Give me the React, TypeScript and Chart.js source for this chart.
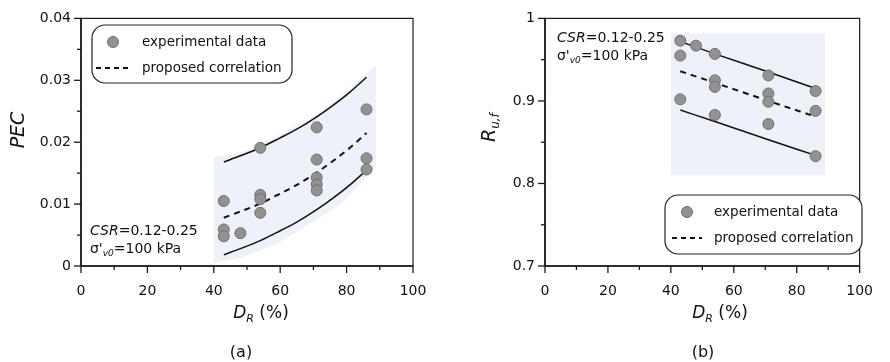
import React, { useEffect, useRef } from 'react';
import { Chart, registerables } from 'chart.js';

Chart.register(...registerables);

const FAM = '"DejaVu Sans", "Liberation Sans", sans-serif';

// ---------- Panel (a): PEC vs D_R ----------
const pecDR = [43, 43, 43, 48, 54, 54, 54, 54, 71, 71, 71, 71, 71, 86, 86, 86];
const pecValues = [0.0105, 0.0059, 0.0048, 0.0053, 0.0191, 0.0115, 0.0108, 0.0086, 0.0224, 0.0172, 0.0143, 0.0132, 0.0122, 0.0253, 0.0174, 0.0156];
const pecCurveDR = [43, 48, 54, 60, 65, 71, 76, 81, 86];
const pecMean = [0.0078, 0.0088, 0.0101, 0.0117, 0.0131, 0.0151, 0.0170, 0.0191, 0.0215];
const pecUpper = [0.0168, 0.0178, 0.0191, 0.0207, 0.0221, 0.0241, 0.0260, 0.0281, 0.0305];
const pecLower = [0.0018, 0.0028, 0.0041, 0.0057, 0.0071, 0.0091, 0.0110, 0.0131, 0.0155];
const pecBandDR = [40, 47, 54, 62, 70, 78, 89];
const pecBandTop = [0.0175, 0.0182, 0.0196, 0.0218, 0.0242, 0.0274, 0.0325];
const pecBandBottom = [0.0005, 0.0012, 0.0025, 0.0045, 0.0072, 0.0100, 0.0160];

// ---------- Panel (b): R_u,f vs D_R ----------
const ruDR = [43, 43, 43, 48, 54, 54, 54, 54, 71, 71, 71, 71, 86, 86, 86];
const ruValues = [0.973, 0.955, 0.902, 0.967, 0.957, 0.925, 0.917, 0.883, 0.931, 0.909, 0.899, 0.872, 0.912, 0.888, 0.833];
const ruLineDR = [43, 54, 71, 86];
const ruMean = [0.936, 0.922, 0.900, 0.881];
const ruUpper = [0.972, 0.957, 0.935, 0.915];
const ruLower = [0.889, 0.875, 0.853, 0.834];
const ruBandDR = [40, 89];
const ruBandTop = [0.982, 0.982];
const ruBandBottom = [0.81, 0.81];

const xTickValues = [0, 20, 40, 60, 80, 100];
const legendLabels = ['experimental data', 'proposed correlation'];
const noteCSR = ['CSR', '=0.12-0.25'];
const noteSigma = ["σ'", 'v0', '=100 kPa'];

type Seg = { t: string; font: string; dy?: number; gap?: number };

interface Panel {
  dataX: number[]; dataY: number[];
  curveX: number[]; mean: number[]; upper: number[]; lower: number[];
  bandX: number[]; bandTop: number[]; bandBottom: number[];
  yMin: number; yMax: number; yStep: number; yMinorCount: number;
  fmt: (v: number) => string;
  axisLeft: number; padRight: number; padTop: number; axisBottom: number;
  legend: { x: number; y: number; w: number; h: number; mx: number; tx: number; r1: number; r2: number; d1: number; d2: number };
  note: { x: number; b1: number; b2: number };
  yTitle: 'pec' | 'ru';
  xTitleCenter: number;
  caption: string; captionX: number;
}

const panelA: Panel = {
  dataX: pecDR, dataY: pecValues,
  curveX: pecCurveDR, mean: pecMean, upper: pecUpper, lower: pecLower,
  bandX: pecBandDR, bandTop: pecBandTop, bandBottom: pecBandBottom,
  yMin: 0, yMax: 0.04, yStep: 0.01, yMinorCount: 8,
  fmt: (v) => (Math.abs(v) < 1e-9 ? '0' : Number(v).toFixed(2)),
  axisLeft: 81, padRight: 32, padTop: 16, axisBottom: 266,
  legend: { x: 92, y: 25, w: 200, h: 58, mx: 113, tx: 142, r1: 42, r2: 68, d1: 96, d2: 128 },
  note: { x: 90, b1: 235, b2: 253 },
  yTitle: 'pec',
  xTitleCenter: 261,
  caption: '(a)', captionX: 241,
};

const panelB: Panel = {
  dataX: ruDR, dataY: ruValues,
  curveX: ruLineDR, mean: ruMean, upper: ruUpper, lower: ruLower,
  bandX: ruBandDR, bandTop: ruBandTop, bandBottom: ruBandBottom,
  yMin: 0.7, yMax: 1, yStep: 0.1, yMinorCount: 6,
  fmt: (v) => String(Number(Number(v).toFixed(1))),
  axisLeft: 100, padRight: 15, padTop: 15, axisBottom: 266,
  legend: { x: 220, y: 195, w: 197, h: 59, mx: 242, tx: 269, r1: 212, r2: 238, d1: 227, d2: 257 },
  note: { x: 112, b1: 42, b2: 60 },
  yTitle: 'ru',
  xTitleCenter: 275,
  caption: '(b)', captionX: 258,
};

function drawSegs(ctx: CanvasRenderingContext2D, segs: Seg[], x: number, y: number) {
  let cx = x;
  for (const s of segs) {
    ctx.font = s.font;
    ctx.fillText(s.t, cx, y + (s.dy || 0));
    cx += ctx.measureText(s.t).width + (s.gap || 0);
  }
}
function segsWidth(ctx: CanvasRenderingContext2D, segs: Seg[]) {
  let w = 0;
  for (const s of segs) {
    ctx.font = s.font;
    w += ctx.measureText(s.t).width + (s.gap || 0);
  }
  return w;
}

function marker(ctx: CanvasRenderingContext2D, x: number, y: number) {
  ctx.beginPath();
  ctx.arc(x, y, 5.5, 0, Math.PI * 2);
  ctx.fillStyle = '#929292';
  ctx.fill();
  ctx.lineWidth = 1;
  ctx.strokeStyle = '#6e6e6e';
  ctx.stroke();
}

function decorPlugin(p: Panel) {
  return {
    id: 'decor',
    afterDraw(chart: any) {
      const { ctx, chartArea: a, scales } = chart;
      const xs = scales.x;
      const ys = scales.y;
      ctx.save();
      ctx.setLineDash([]);
      // frame
      ctx.strokeStyle = '#1a1a1a';
      ctx.lineWidth = 1.2;
      ctx.strokeRect(a.left, a.top, a.right - a.left, a.bottom - a.top);
      ctx.lineWidth = 1.6;
      ctx.beginPath();
      ctx.moveTo(a.left, a.top);
      ctx.lineTo(a.left, a.bottom);
      ctx.lineTo(a.right, a.bottom);
      ctx.stroke();
      // x ticks
      ctx.lineWidth = 1.3;
      for (let i = 0; i <= 10; i++) {
        const px = xs.getPixelForValue(i * 10);
        const len = i % 2 === 0 ? 7 : 4;
        ctx.beginPath();
        ctx.moveTo(px, a.bottom);
        ctx.lineTo(px, a.bottom + len);
        ctx.stroke();
      }
      // y ticks
      for (let i = 0; i <= p.yMinorCount; i++) {
        const v = p.yMin + (i * (p.yMax - p.yMin)) / p.yMinorCount;
        const py = ys.getPixelForValue(v);
        const len = i % 2 === 0 ? 7 : 4;
        ctx.beginPath();
        ctx.moveTo(a.left - len, py);
        ctx.lineTo(a.left, py);
        ctx.stroke();
      }

      // legend
      const L = p.legend;
      ctx.beginPath();
      ctx.roundRect(L.x, L.y, L.w, L.h, 13);
      ctx.fillStyle = '#ffffff';
      ctx.fill();
      ctx.strokeStyle = '#222';
      ctx.lineWidth = 1.2;
      ctx.stroke();
      marker(ctx, L.mx, L.r1);
      ctx.fillStyle = '#111';
      ctx.font = `13.5px ${FAM}`;
      ctx.textAlign = 'left';
      ctx.textBaseline = 'middle';
      ctx.fillText(legendLabels[0], L.tx, L.r1);
      ctx.fillText(legendLabels[1], L.tx, L.r2);
      ctx.beginPath();
      ctx.setLineDash([5, 4]);
      ctx.lineWidth = 1.8;
      ctx.strokeStyle = '#111';
      ctx.moveTo(L.d1, L.r2);
      ctx.lineTo(L.d2, L.r2);
      ctx.stroke();
      ctx.setLineDash([]);

      // notes
      ctx.textBaseline = 'alphabetic';
      ctx.fillStyle = '#111';
      drawSegs(ctx, [
        { t: noteCSR[0], font: `italic 14px ${FAM}` },
        { t: noteCSR[1], font: `14px ${FAM}` },
      ], p.note.x, p.note.b1);
      drawSegs(ctx, [
        { t: noteSigma[0], font: `14px ${FAM}` },
        { t: noteSigma[1], font: `italic 9px ${FAM}`, dy: 3 },
        { t: noteSigma[2], font: `14px ${FAM}` },
      ], p.note.x, p.note.b2);

      // x title
      const xt: Seg[] = [
        { t: 'D', font: `italic 17px ${FAM}` },
        { t: 'R', font: `italic 11px ${FAM}`, dy: 4 },
        { t: ' (%)', font: `17px ${FAM}` },
      ];
      const w = segsWidth(ctx, xt);
      drawSegs(ctx, xt, p.xTitleCenter - w / 2, 318);

      // y title
      ctx.save();
      if (p.yTitle === 'pec') {
        ctx.translate(24, 130);
        ctx.rotate(-Math.PI / 2);
        ctx.textAlign = 'center';
        ctx.font = `italic 19px ${FAM}`;
        ctx.fillText('PEC', 0, 0);
      } else {
        ctx.translate(50, 142);
        ctx.rotate(-Math.PI / 2);
        ctx.textAlign = 'left';
        drawSegs(ctx, [
          { t: 'R', font: `italic 19px ${FAM}` },
          { t: 'u,f', font: `italic 12px ${FAM}`, dy: 4 },
        ], 0, 0);
      }
      ctx.restore();

      // caption
      ctx.textAlign = 'center';
      ctx.font = `16px ${FAM}`;
      ctx.fillText(p.caption, p.captionX, 357);
      ctx.restore();
    },
  };
}

function pts(xs: number[], ys: number[]) {
  return xs.map((x, i) => ({ x, y: ys[i] }));
}

function buildConfig(p: Panel): any {
  const lineBase = { type: 'line', pointRadius: 0, fill: false, cubicInterpolationMode: 'monotone', borderColor: '#111' };
  return {
    type: 'scatter',
    data: {
      datasets: [
        { ...lineBase, data: pts(p.bandX, p.bandBottom), borderWidth: 0, borderColor: 'rgba(0,0,0,0)', order: 6 },
        { ...lineBase, data: pts(p.bandX, p.bandTop), borderWidth: 0, borderColor: 'rgba(0,0,0,0)', fill: '-1', backgroundColor: 'rgba(226,231,244,0.6)', order: 5 },
        { ...lineBase, data: pts(p.curveX, p.upper), borderWidth: 1.5, order: 3 },
        { ...lineBase, data: pts(p.curveX, p.lower), borderWidth: 1.5, order: 3 },
        { ...lineBase, label: legendLabels[1], data: pts(p.curveX, p.mean), borderWidth: 2, borderDash: [6, 5], order: 2 },
        {
          type: 'scatter', label: legendLabels[0], data: pts(p.dataX, p.dataY),
          pointRadius: 5.5, pointBackgroundColor: '#929292', pointBorderColor: '#6e6e6e', pointBorderWidth: 1,
          backgroundColor: '#929292', borderColor: '#6e6e6e', order: 0,
        },
      ],
    },
    options: {
      responsive: false,
      animation: false,
      devicePixelRatio: 1,
      layout: { padding: { left: 0, right: p.padRight, top: p.padTop, bottom: 0 } },
      plugins: { legend: { display: false }, tooltip: { enabled: false } },
      scales: {
        x: {
          type: 'linear', min: 0, max: 100,
          afterFit: (s: any) => { s.height = 362 - p.axisBottom; },
          afterBuildTicks: (s: any) => { s.ticks = xTickValues.map((v) => ({ value: v })); },
          ticks: { padding: 17, color: '#111', font: { family: FAM, size: 14 }, maxRotation: 0, autoSkip: false },
          grid: { display: false, drawTicks: false },
          border: { display: false },
        },
        y: {
          type: 'linear', min: p.yMin, max: p.yMax,
          afterFit: (s: any) => { s.width = p.axisLeft; },
          ticks: { stepSize: p.yStep, padding: 10, color: '#111', font: { family: FAM, size: 14 }, callback: (v: any) => p.fmt(Number(v)) },
          grid: { display: false, drawTicks: false },
          border: { display: false },
        },
      },
    },
    plugins: [decorPlugin(p)],
  };
}

function PanelChart({ p, left }: { p: Panel; left: number }) {
  const ref = useRef<HTMLCanvasElement>(null);
  useEffect(() => {
    const chart = new Chart(ref.current as HTMLCanvasElement, buildConfig(p));
    return () => chart.destroy();
  }, [p]);
  return (
    <canvas
      ref={ref}
      width={445}
      height={362}
      style={{ position: 'absolute', left, top: 0, width: 445, height: 362 }}
    />
  );
}

export default function App() {
  return (
    <div style={{ position: 'absolute', left: 0, top: 0, width: 890, height: 362, background: '#fff' }}>
      <PanelChart p={panelA} left={0} />
      <PanelChart p={panelB} left={445} />
    </div>
  );
}
